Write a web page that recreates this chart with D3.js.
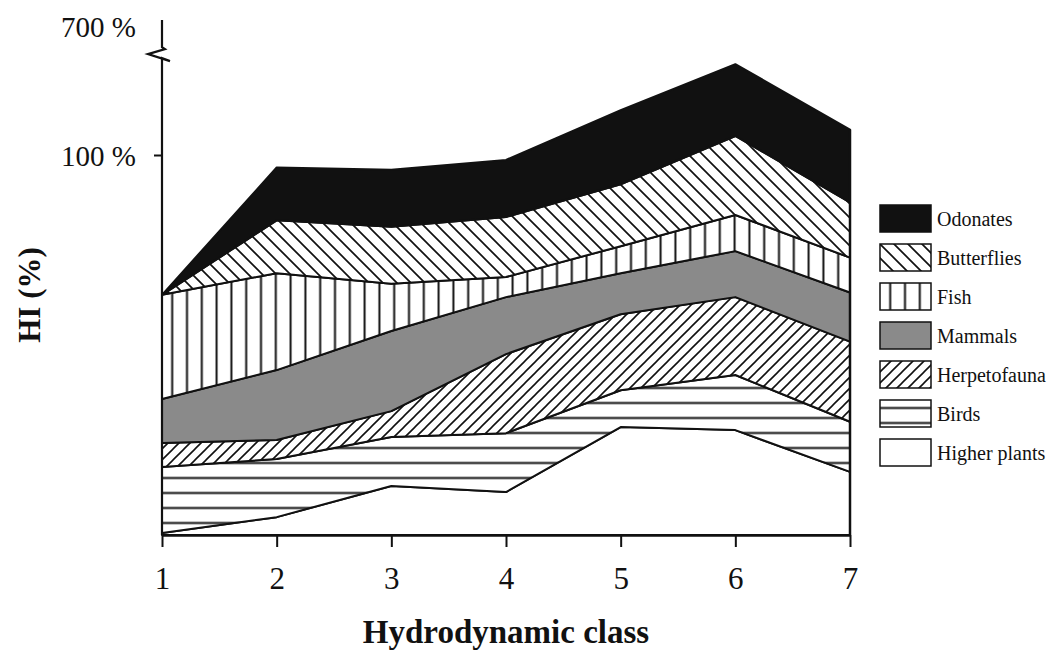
<!DOCTYPE html>
<html>
<head>
<meta charset="utf-8">
<script src="https://cdn.jsdelivr.net/npm/d3@7"></script>
<style>
  body { margin: 0; background: #fff; }
  text { font-family: "Liberation Serif", "Times New Roman", serif; fill: #111; }
</style>
</head>
<body>
<script>
var width = 1050;
var height = 651;
var margin = { top: 20, right: 200, bottom: 116, left: 162 };

// hydrodynamic classes
var classes = [1, 2, 3, 4, 5, 6, 7];

// share of HI (%) per group, bottom layer first
var higherPlants = [0.5, 4.7, 12.9, 11.3, 28.4, 27.6, 16.6];
var birds        = [17.4, 15.3, 12.9, 15.5, 9.7, 14.5, 13.2];
var herpetofauna = [6.3, 5.0, 6.8, 20.8, 20.0, 20.5, 21.1];
var mammals      = [11.6, 18.4, 21.1, 15.0, 10.8, 12.1, 12.9];
var fish         = [27.4, 25.5, 12.4, 5.3, 7.1, 9.5, 9.2];
var butterflies  = [0, 13.9, 15.0, 15.8, 16.3, 20.8, 14.5];
var odonates     = [0, 13.9, 15.0, 15.0, 19.5, 18.9, 19.2];

var groupNames = ["Higher plants", "Birds", "Herpetofauna", "Mammals", "Fish", "Butterflies", "Odonates"];
var groupValues = [higherPlants, birds, herpetofauna, mammals, fish, butterflies, odonates];

var yTickValues = [100];
var yBreakLabel = "700 %";

var fills = {
    "Higher plants": "#fff",
    "Birds": "url(#horiz)",
    "Herpetofauna": "url(#fwd)",
    "Mammals": "#8a8a8a",
    "Fish": "url(#vert)",
    "Butterflies": "url(#back)",
    "Odonates": "#111"
};

var rows = classes.map(function (c, i) {
    var r = { cls: c };
    groupNames.forEach(function (g, j) { r[g] = groupValues[j][i]; });
    return r;
});

var w = width - margin.left - margin.right;   // 688
var h = height - margin.top - margin.bottom;  // 515 -> baseline 535

var svg = d3.select("body").append("svg")
    .attr("width", width)
    .attr("height", height);

var defs = svg.append("defs");

// birds: horizontal lines
var p = defs.append("pattern").attr("id", "horiz").attr("patternUnits", "userSpaceOnUse")
    .attr("width", 20).attr("height", 15).attr("patternTransform", "translate(0,435.5)");
p.append("rect").attr("width", 20).attr("height", 15).attr("fill", "#fff");
p.append("path").attr("d", "M0,7.5H20").attr("stroke", "#111").attr("stroke-width", 2);

// fish: vertical lines
p = defs.append("pattern").attr("id", "vert").attr("patternUnits", "userSpaceOnUse")
    .attr("width", 14.8).attr("height", 20).attr("patternTransform", "translate(165.6,0)");
p.append("rect").attr("width", 14.8).attr("height", 20).attr("fill", "#fff");
p.append("path").attr("d", "M7.4,0V20").attr("stroke", "#111").attr("stroke-width", 2);

// butterflies: "\" hatching
p = defs.append("pattern").attr("id", "back").attr("patternUnits", "userSpaceOnUse")
    .attr("width", 14).attr("height", 14);
p.append("rect").attr("width", 14).attr("height", 14).attr("fill", "#fff");
p.append("path").attr("d", "M-7,7L7,21M0,0L14,14M7,-7L21,7").attr("stroke", "#111").attr("stroke-width", 1.7);

// herpetofauna: "/" hatching
p = defs.append("pattern").attr("id", "fwd").attr("patternUnits", "userSpaceOnUse")
    .attr("width", 11).attr("height", 11);
p.append("rect").attr("width", 11).attr("height", 11).attr("fill", "#fff");
p.append("path").attr("d", "M-5.5,5.5L5.5,-5.5M0,11L11,0M5.5,16.5L16.5,5.5").attr("stroke", "#111").attr("stroke-width", 1.6);

var chart = svg.append("g")
    .attr("transform", "translate(" + margin.left + "," + margin.top + ")");

var x = d3.scaleLinear().domain([1, 7]).range([0, w]);
var y = d3.scaleLinear().domain([0, 100]).range([h, h - 380]);

var stack = d3.stack().keys(groupNames);
var series = stack(rows);

var area = d3.area()
    .x(function (d) { return x(d.data.cls); })
    .y0(function (d) { return y(d[0]); })
    .y1(function (d) { return y(d[1]); });

chart.selectAll(".layer")
    .data(series)
    .enter().append("path")
    .attr("class", "layer")
    .attr("d", area)
    .attr("fill", function (d) { return fills[d.key]; })
    .attr("stroke", "#111")
    .attr("stroke-width", 2)
    .attr("stroke-linejoin", "round");

// right edge
var last = series[series.length - 1][classes.length - 1];
chart.append("line")
    .attr("x1", x(7)).attr("x2", x(7))
    .attr("y1", y(0)).attr("y2", y(last[1]))
    .attr("stroke", "#111").attr("stroke-width", 2.5);

// x axis
var xAxis = d3.axisBottom(x).tickValues(classes).tickSize(12).tickSizeOuter(0).tickPadding(20)
    .tickFormat(d3.format("d"));
var gx = chart.append("g")
    .attr("transform", "translate(0," + h + ")")
    .call(xAxis);
gx.select(".domain").attr("stroke", "#111").attr("stroke-width", 2.5);
gx.selectAll(".tick line").attr("stroke", "#111").attr("stroke-width", 2);
gx.selectAll(".tick text")
    .style("font-family", "Liberation Serif")
    .style("font-size", "31px")
    .attr("fill", "#111");

// y axis with break
var yAxis = d3.axisLeft(y).tickValues(yTickValues).tickSize(8)
    .tickFormat(function (d) { return d + " %"; }).tickPadding(18);
var gy = chart.append("g").call(yAxis);
gy.select(".domain").remove();
gy.selectAll(".tick line").attr("stroke", "#111").attr("stroke-width", 2);
gy.selectAll(".tick text")
    .style("font-family", "Liberation Serif")
    .style("font-size", "29px")
    .attr("dy", "0.35em")
    .attr("fill", "#111");

var yTop = y(135.5), yBreak = y(125.5);
chart.append("path")
    .attr("d", "M0," + y(0) + "V" + yBreak + "L8," + (yBreak + 3) + "L-14," + (yBreak - 4) +
        "L3," + (yBreak - 9) + "L0," + (yBreak - 11) + "V" + yTop)
    .attr("fill", "none")
    .attr("stroke", "#111")
    .attr("stroke-width", 2.2);

chart.append("text")
    .attr("x", -26)
    .attr("y", yTop + 7)
    .attr("dy", "0.35em")
    .attr("text-anchor", "end")
    .style("font-size", "29px")
    .text(yBreakLabel);

// axis titles
svg.append("text")
    .attr("x", margin.left + w / 2)
    .attr("y", 643)
    .attr("text-anchor", "middle")
    .style("font-size", "33px")
    .style("font-weight", "bold")
    .text("Hydrodynamic class");

svg.append("text")
    .attr("transform", "translate(40,295) rotate(-90)")
    .attr("text-anchor", "middle")
    .style("font-size", "31px")
    .style("font-weight", "bold")
    .text("HI (%)");

// legend, top entry first
var legend = svg.append("g").attr("transform", "translate(880,205)");
var legendItems = groupNames.slice().reverse();
var li = legend.selectAll(".li")
    .data(legendItems)
    .enter().append("g")
    .attr("class", "li")
    .attr("transform", function (d, i) { return "translate(0," + (i * 39) + ")"; });
li.append("rect")
    .attr("width", 51).attr("height", 27)
    .attr("fill", function (d) { return fills[d]; })
    .attr("stroke", "#111").attr("stroke-width", 1.5);
li.append("text")
    .attr("x", 57)
    .attr("y", 14)
    .attr("dy", "0.35em")
    .style("font-size", "20px")
    .text(function (d) { return d; });
</script>
</body>
</html>
